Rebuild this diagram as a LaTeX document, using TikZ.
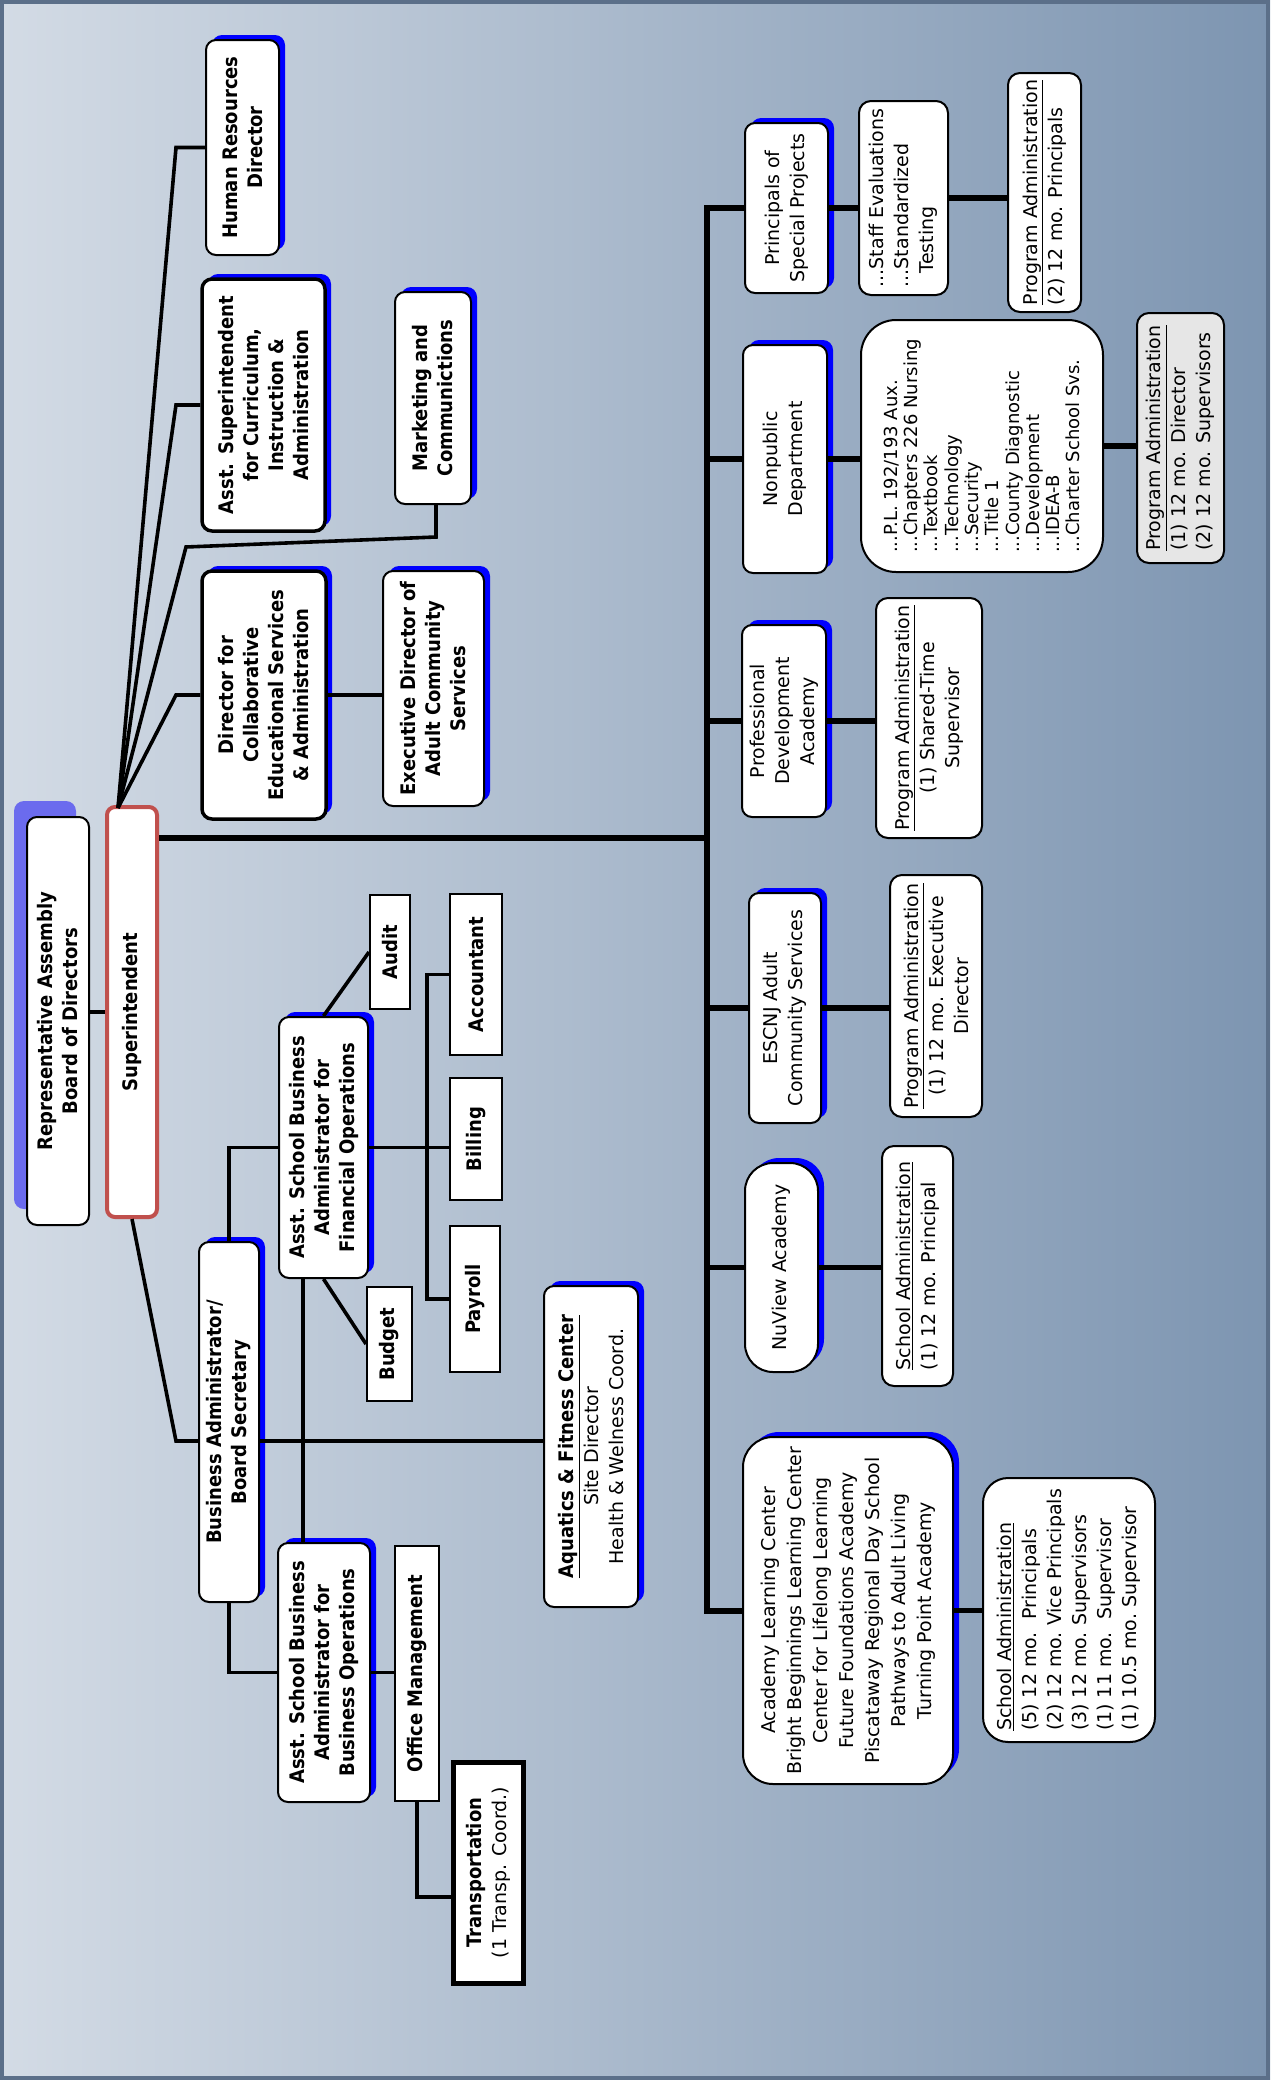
\documentclass[tikz,border=0pt]{standalone}
\usepackage{fontspec}
\setmainfont{DejaVu Sans}[BoldFeatures={FakeStretch=0.9}]
\usepackage{tikz}
\usetikzlibrary{shadows, calc}

\definecolor{bgleft}{HTML}{D3DBE5}
\definecolor{bgright}{HTML}{7D95B1}
\definecolor{framecol}{HTML}{5B6F89}
\definecolor{repblue}{HTML}{6B6BEE}
\definecolor{supred}{HTML}{C0504D}
\definecolor{progray}{HTML}{E6E6E6}

\begin{document}
\begin{tikzpicture}[x=1pt, y=-1pt,
    post/.style={draw, line width=2pt, fill=white, rounded corners=10pt, rotate=90, align=center, inner sep=0pt, font=\fontsize{20}{25}\selectfont\bfseries},
    office/.style={post, font=\fontsize{19}{25}\selectfont},
    note/.style={post, rounded corners=12pt, font=\fontsize{19}{25}\selectfont},
    desk/.style={draw, line width=2pt, fill=white, rotate=90, align=center, inner sep=0pt, font=\fontsize{20}{25}\selectfont\bfseries},
    bshadow/.style={drop shadow={shadow xshift=6pt, shadow yshift=5pt, fill=blue, opacity=1}},
    repshadow/.style={drop shadow={shadow xshift=-13pt, shadow yshift=16pt, fill=repblue, opacity=1}},
    heavy/.style={line width=3.5pt},
    wh/.style 2 args={minimum height=#1pt, minimum width=#2pt},
    conn/.style={line width=3.6pt},
    bar/.style={line width=5.5pt}
]
\useasboundingbox (0,0) rectangle (1270,2080);
\shade[left color=bgleft, right color=bgright] (0,0) rectangle (1270,2080);
\draw[framecol, line width=4pt] (2,2) rectangle (1268,2078);

\node[post, repshadow, wh={62}{408}] (rep) at (58,1021) {Representative Assembly\\Board of Directors};
\node[post, draw=supred, line width=4pt, rounded corners=8pt, wh={50}{410}] (sup) at (132,1012) {Superintendent};

\node[post, bshadow, wh={73}{215}] (hr) at (242.5,147.5) {Human Resources\\Director};
\node[post, bshadow, heavy, wh={123}{252}] (asup) at (263.5,405) {Asst. Superintendent\\for Curriculum,\\Instruction \&\\Administration};
\node[post, bshadow, wh={76}{212}] (mkt) at (433,398) {Marketing and\\Communictions};
\node[post, bshadow, heavy, wh={124}{248}] (dir) at (264,695) {Director for\\Collaborative\\Educational Services\\\& Administration};
\node[post, bshadow, wh={101}{235}] (exd) at (433.5,688.5) {Executive Director of\\Adult Community\\Services};

\node[post, bshadow, wh={60}{360}] (bus) at (229,1422) {Business Administrator/\\Board Secretary};
\node[post, bshadow, wh={89}{261}] (afin) at (323.5,1147.5) {Asst. School Business\\Administrator for\\Financial Operations};
\node[desk, wh={40}{114}] (audit) at (390,952) {Audit};
\node[desk, wh={45}{114}] (budget) at (389.5,1344) {Budget};
\node[desk, wh={52}{161}] (acct) at (476,974.5) {Accountant};
\node[desk, wh={52}{122}] (bill) at (476,1139) {Billing};
\node[desk, wh={50}{146}] (pay) at (475,1299) {Payroll};
\node[post, bshadow, wh={94}{321}] (aqua) at (591,1446.5) {\underline{Aquatics \& Fitness Center}\\{\mdseries\fontsize{19}{25}\selectfont Site Director}\\{\mdseries\fontsize{19}{25}\selectfont Health \& Welness Coord.}};
\node[post, bshadow, wh={92}{259}] (abus) at (324,1672.5) {Asst. School Business\\Administrator for\\Business Operations};
\node[desk, wh={44}{255}] (off) at (417,1673.5) {Office Management};
\node[desk, line width=5pt, wh={70}{221}] (trn) at (488,1872.5) {Transportation\\{\mdseries\fontsize{19}{25}\selectfont (1 Transp. Coord.)}};

\node[office, bshadow, wh={83}{170}] (psp) at (786.5,208) {Principals of\\Special Projects};
\node[note, align=left, wh={89}{194}] (staff) at (903.5,198) {...Staff Evaluations\\...Standardized\\\hspace*{14pt}Testing};
\node[note, align=left, wh={73}{239}] (pa1) at (1044.5,192.5) {\underline{Program Administration}\\(2) 12 mo. Principals};
\node[office, bshadow, wh={84}{228}] (npd) at (785,459) {Nonpublic\\Department};
\node[note, rounded corners=35pt, align=left, font=\fontsize{18}{20.3}\selectfont, wh={242}{252}] (lst) at (982,446) {...P.L. 192/193 Aux.\\...Chapters 226 Nursing\\...Textbook\\...Technology\\...Security\\...Title 1\\...County Diagnostic\\...Development\\...IDEA-B\\...Charter School Svs.};
\node[note, fill=progray, align=left, wh={87}{250}] (pa2) at (1180.5,438) {\underline{Program Administration}\\(1) 12 mo. Director\\(2) 12 mo. Supervisors};
\node[office, bshadow, wh={84}{192}] (pda) at (784,721) {Professional\\Development\\Academy};
\node[note, wh={106}{240}] (pa3) at (929,718) {\underline{Program Administration}\\(1) Shared-Time\\Supervisor};
\node[office, bshadow, wh={72}{230}] (esc) at (785,1008) {ESCNJ Adult\\Community Services};
\node[note, wh={92}{242}] (pa4) at (936,996) {\underline{Program Administration}\\(1) 12 mo. Executive\\Director};
\node[office, bshadow, rounded corners=28pt, wh={73}{209}] (nuv) at (781.5,1267.5) {NuView Academy};
\node[note, align=left, wh={71}{240}] (sa1) at (917.5,1266) {\underline{School Administration}\\(1) 12 mo. Principal};
\node[office, bshadow, rounded corners=30pt, font=\fontsize{19}{26}\selectfont, wh={210}{347}] (alc) at (848,1610.5) {Academy Learning Center\\Bright Beginnings Learning Center\\Center for Lifelong Learning\\Future Foundations Academy\\Piscataway Regional Day School\\Pathways to Adult Living\\Turning Point Academy};
\node[note, rounded corners=25pt, align=left, wh={172}{264}] (sa2) at (1069,1610) {\underline{School Administration}\\(5) 12 mo.\ \ Principals\\(2) 12 mo.\ Vice Principals\\(3) 12 mo.\ Supervisors\\(1) 11 mo.\ \ Supervisor\\(1) 10.5 mo.\ Supervisor};

\coordinate (apex) at (118,808);
\coordinate (fx) at (176,0);
\coordinate (mkb) at (186,547);
\coordinate (mke) at (436,537);
\coordinate (by) at (0,1441);
\coordinate (vx) at (303,0);
\coordinate (bx) at (427,0);
\coordinate (ty) at (0,1897);
\coordinate (trk) at (707,0);
\coordinate (tkm) at (707,838);

\draw[conn] (sup.north) -- (sup.north -| rep.south);
\draw[conn] (apex) -- (fx |- hr.north) -- (hr.north);
\draw[conn] (apex) -- (fx |- asup.north) -- (asup.north);
\draw[conn] (apex) -- (fx |- dir.north) -- (dir.north);
\draw[conn] (apex) -- (mkb) -- (mke) -- (mke |- mkt.west);
\draw[conn] (dir.south) -- (dir.south -| exd.north);
\draw[conn] (sup.west) -- (fx |- by) -- (bus.north |- by);
\draw[conn] (bus.south |- by) -- (aqua.north |- by);
\draw[conn] (bus.east) -- (bus.east |- afin.north) -- (afin.north);
\draw[conn] (bus.west) -- (bus.west |- abus.north) -- (abus.north);
\draw[conn] (vx |- afin.west) -- (vx |- abus.east);
\draw[conn] (afin.east) -- (audit.north);
\draw[conn] (afin.west) -- (budget.north);
\draw[conn] (afin.south) -- (afin.south -| bill.north);
\draw[conn] (acct.north) -- (bx |- acct.north) -- (bx |- pay.north) -- (pay.north);
\draw[conn] (abus.south) -- (abus.south -| off.north);
\draw[conn] (off.west) -- (off.west |- ty) -- (trn.north |- ty);

\draw[bar, line width=6pt] (psp.north) -- (trk |- psp.north) -- (trk |- alc.north) -- (alc.north);
\draw[bar] (sup.south |- tkm) -- (tkm);
\foreach \u in {npd,pda,esc,nuv}
  \draw[bar] (trk |- \u.north) -- (\u.north);
\foreach \u/\v in {psp/staff, staff/pa1, npd/lst, lst/pa2, pda/pa3, esc/pa4, nuv/sa1, alc/sa2}
  \draw[bar] (\u.south) -- (\u.south -| \v.north);
\end{tikzpicture}
\end{document}
